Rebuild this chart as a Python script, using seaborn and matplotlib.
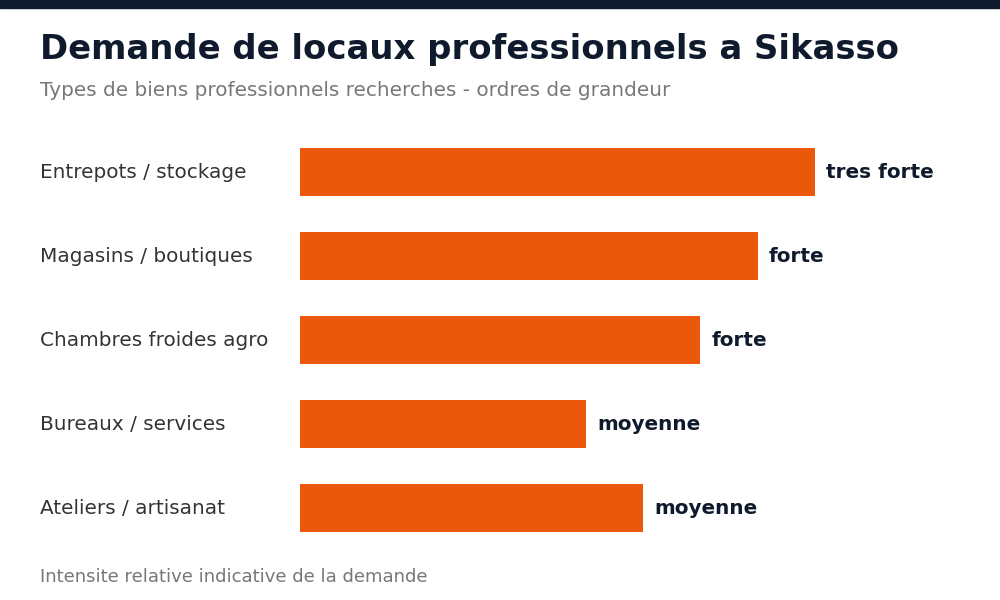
import seaborn as sns
import matplotlib.pyplot as plt
import matplotlib.transforms as mtransforms
import pandas as pd

# data
categories = ["Entrepots / stockage", "Magasins / boutiques", "Chambres froides agro",
              "Bureaux / services", "Ateliers / artisanat"]
values = [90, 80, 70, 50, 60]
value_labels = ["tres forte", "forte", "forte", "moyenne", "moyenne"]

title = "Demande de locaux professionnels a Sikasso"
subtitle = "Types de biens professionnels recherches - ordres de grandeur"
footer = "Intensite relative indicative de la demande"

df = pd.DataFrame({"type": categories, "value": values})

sns.set_theme(style="white")
plt.rcParams['font.family'] = 'sans-serif'
plt.rcParams['font.sans-serif'] = ['DejaVu Sans']
FONT = 'DejaVu Sans'

fig = plt.figure(figsize=(10, 6), dpi=100)
ax = fig.add_axes([0.30, 0.0833, 0.572, 0.70])

sns.barplot(data=df, x="value", y="type", color="#ea580c", width=0.57,
            saturation=1, linewidth=0, ax=ax)
ax.set_xlim(0, 100)
ax.set_ylim(4.5, -0.5)
ax.set_xlabel("")
ax.set_ylabel("")
ax.set_xticks([])
ax.set_yticks([])
sns.despine(ax=ax, left=True, bottom=True)

# category labels at the left edge of the figure
trans = mtransforms.blended_transform_factory(fig.transFigure, ax.transData)
for i, cat in enumerate(categories):
    ax.text(0.04, i, cat, transform=trans, ha="left", va="center",
            fontsize=14.4, color="#333333", family=FONT)

# value labels at the end of bars
for i, (v, lab) in enumerate(zip(values, value_labels)):
    ax.annotate(lab, xy=(v, i), xytext=(8, 0), textcoords="offset points",
                ha="left", va="center", fontsize=14.4, fontweight="bold",
                color="#0f1b2d", family=FONT)

# top dark band
fig.patches.append(plt.Rectangle((0, 1 - 8 / 600), 1, 8 / 600, transform=fig.transFigure,
                                 color="#0f1b2d", zorder=0))

fig.text(0.04, 1 - 50 / 600, title, ha="left", va="center", fontsize=24.4,
         fontweight="bold", color="#0f1b2d", family=FONT)
fig.text(0.04, 1 - 90 / 600, subtitle, ha="left", va="center", fontsize=14.4,
         color="#777777", family=FONT)
fig.text(0.04, 1 - 577 / 600, footer, ha="left", va="center", fontsize=13,
         color="#777777", family=FONT)

fig.savefig("out.png", dpi=100, facecolor="white")
